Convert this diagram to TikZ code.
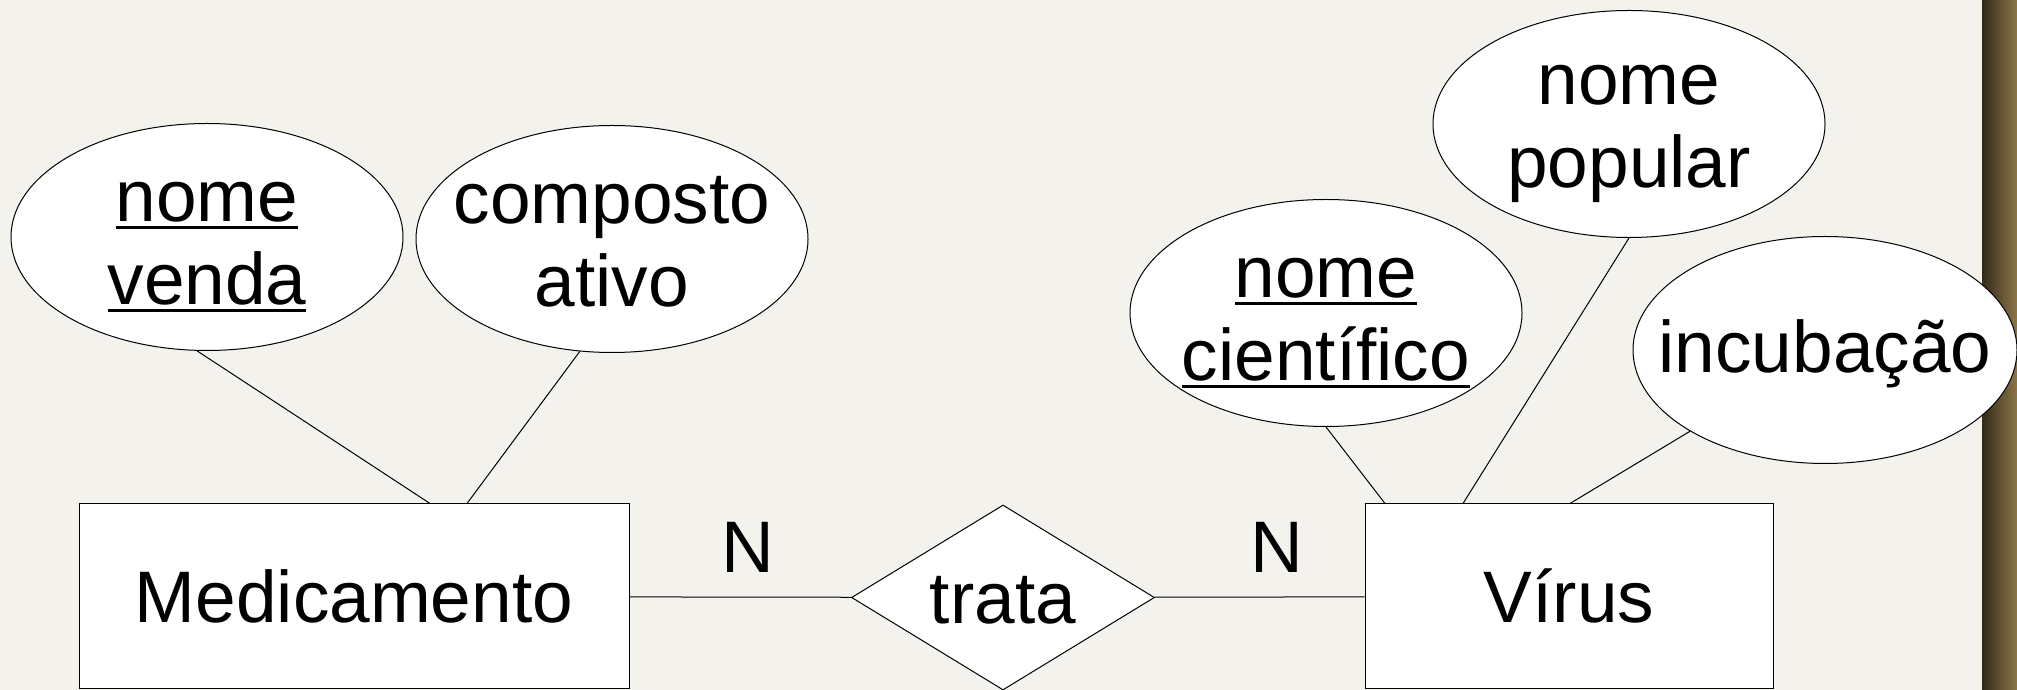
\documentclass[tikz,border=0pt]{standalone}
\usepackage{fontspec}
\setmainfont{Liberation Sans}
\usepackage{tikz}
\usetikzlibrary{shapes}
\definecolor{paper}{RGB}{244,242,237}
\definecolor{wooddark}{RGB}{52,42,24}
\definecolor{woodmid}{RGB}{158,134,82}
\definecolor{woodlight}{RGB}{140,118,72}
\newcommand{\lstrut}{\rule[-8pt]{0pt}{68pt}}
\newcommand{\keyattr}[1]{\setbox0\hbox{#1}\lstrut\rlap{\rule[-7.5pt]{\wd0}{3pt}}\box0}
\tikzstyle{entity} = [draw, fill=white, line width=1pt, minimum width=550pt, minimum height=185pt, text height=52pt, text depth=0pt, inner sep=0pt]
\tikzstyle{relation} = [draw, diamond, fill=white, line width=1pt, aspect=1.65, minimum width=303pt, minimum height=185pt, text height=52pt, text depth=0pt, inner sep=0pt]
\tikzstyle{attrib} = [draw, ellipse, fill=white, line width=1pt, align=center, inner xsep=-45pt, inner ysep=0pt, minimum width=392pt, minimum height=227pt]
\tikzset{
  link/.style ={draw, line width=1pt},
  erfont/.style ={font=\fontsize{73}{83}\selectfont}
}
\begin{document}
\begin{tikzpicture}[x=1pt,y=1pt,erfont]
	\fill[paper] (0,0) rectangle (2017,690);
	\useasboundingbox (0,0) rectangle (2017,690);
	\shade[left color=wooddark, middle color=woodmid, right color=woodlight] (1982,0) rectangle (2017,690);
	% entidades e relacionamento
	\node[entity] (med) at (354,93.5) {Medicamento};
	\node[entity, minimum width=408pt] (vir) at (1569,93.5) {Vírus};
	\node[relation] (trata) at (1003,92.5) {trata};
	\node[anchor=base] (cardm) at (748,117) {N};
	\node[anchor=base] (cardv) at (1277,117) {N};
	% atributos
	\node[attrib] (nv) at (207,453) {\keyattr{nome}\\\keyattr{venda}};
	\node[attrib] (ca) at (612,451) {\lstrut composto\\\lstrut ativo};
	\node[attrib] (nc) at (1326,377) {\keyattr{nome}\\\keyattr{científico}};
	\node[attrib] (np) at (1629,566) {\lstrut nome\\\lstrut popular};
	\node[attrib, minimum width=384pt] (inc) at (1825,340) {\lstrut incubação};
	% ligacoes
	\draw[link] (med) -- (trata);
	\draw[link] (trata) -- (vir);
	\draw[link] (nv.265) -- ([xshift=76pt]med.north);
	\draw[link] (ca.254) -- ([xshift=113pt]med.north);
	\draw[link] (nc.south) -- ([xshift=-184pt]vir.north);
	\draw[link] (np.south) -- ([xshift=-106pt]vir.north);
	\draw[link] (inc) -- ([xshift=1pt]vir.north);
\end{tikzpicture}
\end{document}
